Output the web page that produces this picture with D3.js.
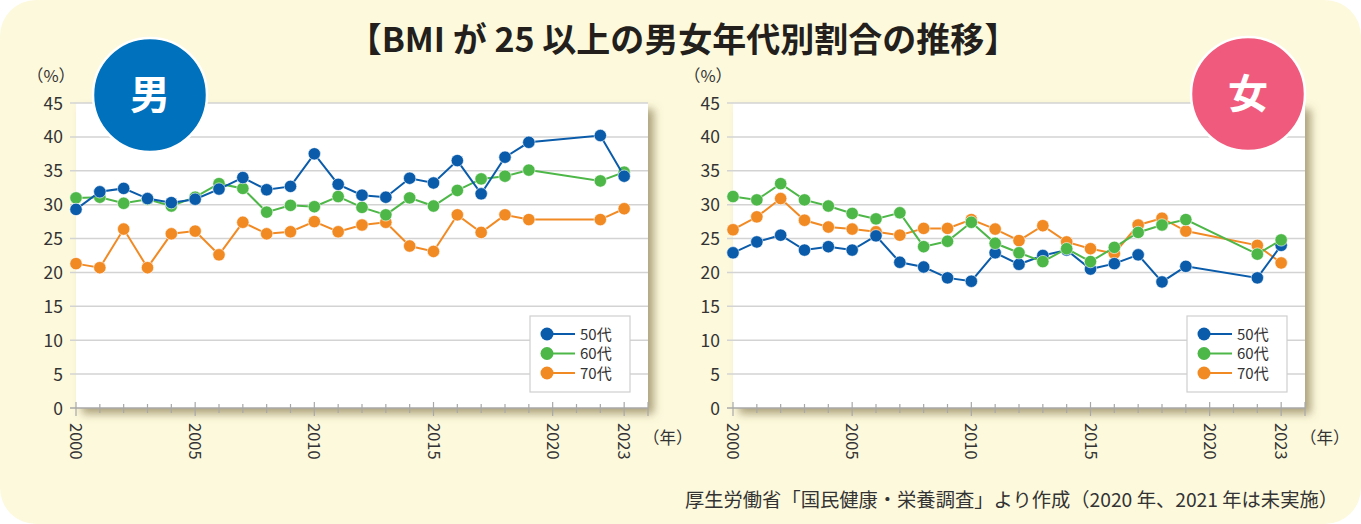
<!DOCTYPE html>
<html><head><meta charset="utf-8">
<script src="https://cdn.jsdelivr.net/npm/d3@7"></script>
<style>
html,body{margin:0;padding:0;background:#fff;}
svg{display:block;font-family:"Noto Sans CJK JP","Noto Sans",sans-serif;}
</style></head>
<body>
<svg id="c" width="1361" height="524"></svg>
<script>
const years = [2000,2001,2002,2003,2004,2005,2006,2007,2008,2009,2010,2011,2012,2013,2014,2015,2016,2017,2018,2019,2022,2023];
const xTickLabels = [2000,2005,2010,2015,2020,2023];
const yTicks = [0,5,10,15,20,25,30,35,40,45];
const seriesNames = ["50代","60代","70代"];
const seriesColors = ["#0a5cab","#4db748","#f28a24"];

const male50 = [29.3,31.9,32.4,30.9,30.3,30.8,32.3,34.0,32.2,32.7,37.5,33.0,31.4,31.1,33.9,33.2,36.5,31.6,37.0,39.2,40.2,34.2];
const male60 = [31.0,31.1,30.2,30.8,29.8,31.1,33.1,32.4,28.9,29.9,29.7,31.2,29.6,28.5,31.0,29.8,32.1,33.8,34.2,35.1,33.5,34.8];
const male70 = [21.3,20.7,26.4,20.7,25.7,26.1,22.6,27.4,25.7,26.0,27.5,26.0,27.0,27.4,23.9,23.1,28.5,25.9,28.5,27.8,27.8,29.4];

const female50 = [22.9,24.5,25.5,23.3,23.8,23.3,25.4,21.5,20.8,19.2,18.7,22.9,21.2,22.5,23.3,20.5,21.3,22.6,18.6,20.9,19.2,24.0];
const female60 = [31.2,30.7,33.1,30.7,29.8,28.7,27.9,28.8,23.8,24.6,27.4,24.3,22.9,21.6,23.5,21.6,23.7,25.9,27.0,27.8,22.7,24.8];
const female70 = [26.3,28.2,30.9,27.7,26.7,26.4,26.0,25.5,26.5,26.5,27.8,26.4,24.7,26.9,24.5,23.5,22.8,27.0,28.0,26.1,24.0,21.4];

const title = "【BMI が 25 以上の男女年代別割合の推移】";
const footnote = "厚生労働省「国民健康・栄養調査」より作成（2020 年、2021 年は未実施）";

const svg = d3.select("#c");
const defs = svg.append("defs");
const f = defs.append("filter").attr("id","sh").attr("x","-5%").attr("y","-5%").attr("width","115%").attr("height","125%");
f.append("feGaussianBlur").attr("in","SourceAlpha").attr("stdDeviation",4).attr("result","b");
f.append("feOffset").attr("in","b").attr("dx",6).attr("dy",6).attr("result","o");
f.append("feFlood").attr("flood-color","#6e5e30").attr("flood-opacity",0.55);
f.append("feComposite").attr("in2","o").attr("operator","in").attr("result","s");
const m = f.append("feMerge");
m.append("feMergeNode").attr("in","s");
m.append("feMergeNode").attr("in","SourceGraphic");

svg.append("rect").attr("x",0).attr("y",0).attr("width",1361).attr("height",524)
  .attr("rx",36).attr("fill","#fdf9dd");

svg.append("text").attr("x",683).attr("y",52).attr("text-anchor","middle")
  .attr("font-size",34).attr("font-weight",700).attr("fill","#231f1c").text(title);

svg.append("text").attr("x",1338).attr("y",507).attr("text-anchor","end")
  .attr("font-size",19.3).attr("fill","#333").text(footnote);

function drawChart(x0, x1, data, order, badge) {
  const x = d3.scaleLinear().domain([2000,2024]).range([x0,x1]);
  const y = d3.scaleLinear().domain([0,45]).range([408,103]);
  const g = svg.append("g");
  g.append("rect").attr("x",x0).attr("y",y(45)).attr("width",x1-x0).attr("height",y(0)-y(45))
    .attr("fill","#fff").attr("filter","url(#sh)");
  g.selectAll("line.grid").data(yTicks).join("line")
    .attr("x1",x0-6).attr("x2",x1).attr("y1",d=>y(d)).attr("y2",d=>y(d))
    .attr("stroke",d=>d===0?"#a8a8a8":"#d3d3d3").attr("stroke-width",1.5);
  g.selectAll("text.yl").data(yTicks).join("text")
    .attr("x",x0-13).attr("y",d=>y(d)+6.5).attr("text-anchor","end")
    .attr("font-size",17.5).attr("fill","#333").text(d=>d);
  g.append("text").attr("x",x0-25).attr("y",82).attr("text-anchor","middle")
    .attr("font-size",16.5).attr("fill","#333").text("（%）");
  const allYears = d3.range(2000,2025);
  g.selectAll("line.xt").data(allYears).join("line")
    .attr("x1",d=>x(d)).attr("x2",d=>x(d))
    .attr("y1",d=>xTickLabels.includes(d)||d===2024?402:404)
    .attr("y2",d=>xTickLabels.includes(d)||d===2024?416:413)
    .attr("stroke","#a8a8a8").attr("stroke-width",1.2);
  g.selectAll("text.xl").data(xTickLabels).join("text")
    .attr("transform",d=>`translate(${x(d)-6},423) rotate(90)`)
    .attr("font-size",16.5).attr("fill","#333").text(d=>d);
  g.append("text").attr("x",x1-5).attr("y",444).attr("font-size",16.5).attr("fill","#333").text("（年）");
  const line = d3.line().x((d,i)=>x(years[i])).y(d=>y(d));
  order.forEach(k=>{
    g.append("path").datum(data[k]).attr("d",line).attr("fill","none")
      .attr("stroke",seriesColors[k]).attr("stroke-width",2);
    g.selectAll(null).data(data[k]).join("circle")
      .attr("cx",(d,i)=>x(years[i])).attr("cy",d=>y(d)).attr("r",6.2)
      .attr("fill",seriesColors[k]).attr("stroke","#fff").attr("stroke-width",0.6);
  });
  const lx = x1-118, ly = 316;
  g.append("rect").attr("x",lx).attr("y",ly).attr("width",100).attr("height",76)
    .attr("fill","#fff").attr("stroke","#cfcfcf").attr("stroke-width",1.2);
  seriesNames.forEach((n,k)=>{
    const yy = ly+18+k*19.5;
    g.append("line").attr("x1",lx+17).attr("x2",lx+45).attr("y1",yy).attr("y2",yy)
      .attr("stroke",seriesColors[k]).attr("stroke-width",2);
    g.append("circle").attr("cx",lx+17).attr("cy",yy).attr("r",6.5).attr("fill",seriesColors[k]);
    g.append("text").attr("x",lx+50).attr("y",yy+5.5).attr("font-size",15).attr("fill","#333").text(n);
  });
  g.append("circle").attr("cx",badge.cx).attr("cy",badge.cy).attr("r",57)
    .attr("fill",badge.color).attr("stroke","#fff").attr("stroke-width",2.5);
  g.append("text").attr("x",badge.cx).attr("y",badge.cy+14).attr("text-anchor","middle")
    .attr("font-size",40).attr("font-weight",700).attr("fill","#fff").text(badge.label);
}

drawChart(76,648,[male50,male60,male70],[2,1,0],{cx:150,cy:95,color:"#0071bc",label:"男"});
drawChart(733,1305,[female50,female60,female70],[2,0,1],{cx:1248,cy:94,color:"#f05b7d",label:"女"});
</script>
</body></html>
